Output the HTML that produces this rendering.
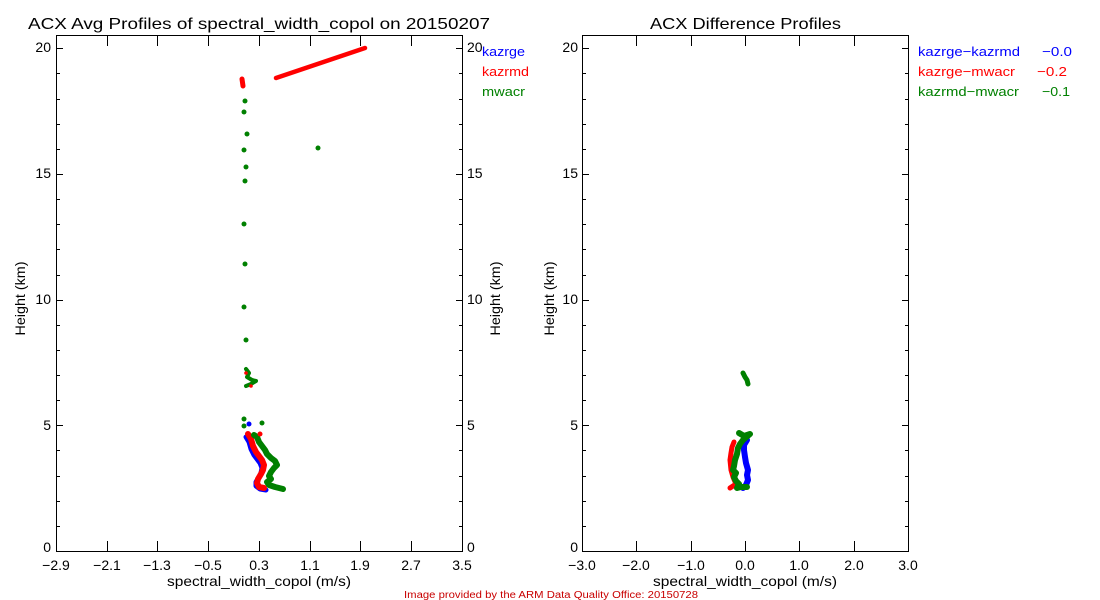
<!DOCTYPE html>
<html><head><meta charset="utf-8"><style>
html,body{margin:0;padding:0;background:#fff;}
svg{display:block;}
text{font-family:"Liberation Sans",sans-serif;}
</style></head><body>
<svg width="1100" height="600" viewBox="0 0 1100 600" xmlns="http://www.w3.org/2000/svg">
<rect width="1100" height="600" fill="#fff"/>

<!-- Titles -->
<text x="28" y="29" font-size="16" textLength="462" lengthAdjust="spacingAndGlyphs" fill="#000">ACX Avg Profiles of spectral_width_copol on 20150207</text>
<text x="650" y="29" font-size="16" textLength="191" lengthAdjust="spacingAndGlyphs" fill="#000">ACX Difference Profiles</text>

<!-- ===== Left plot axes ===== -->
<g stroke="#000" stroke-width="1" fill="none" shape-rendering="crispEdges">
<rect x="56.5" y="35.5" width="406" height="516"/>
<path d="M107.5 551v-10M157.5 551v-10M208.5 551v-10M259.5 551v-10M310.5 551v-10M360.5 551v-10M411.5 551v-10
M107.5 36v10M157.5 36v10M208.5 36v10M259.5 36v10M310.5 36v10M360.5 36v10M411.5 36v10"/>
<path d="M56 425.5h7M56 300.5h7M56 174.5h7M56 48.5h7
M56 526.5h4M56 501.5h4M56 476.5h4M56 450.5h4M56 400.5h4M56 375.5h4M56 350.5h4M56 325.5h4M56 275.5h4M56 249.5h4M56 224.5h4M56 199.5h4M56 149.5h4M56 124.5h4M56 99.5h4M56 73.5h4
M463 425.5h-7M463 300.5h-7M463 174.5h-7M463 48.5h-7
M463 526.5h-4M463 501.5h-4M463 476.5h-4M463 450.5h-4M463 400.5h-4M463 375.5h-4M463 350.5h-4M463 325.5h-4M463 275.5h-4M463 249.5h-4M463 224.5h-4M463 199.5h-4M463 149.5h-4M463 124.5h-4M463 99.5h-4M463 73.5h-4"/>
</g>
<g font-size="14" fill="#000" text-anchor="middle">
<text x="56" y="570">−2.9</text>
<text x="107" y="570">−2.1</text>
<text x="157" y="570">−1.3</text>
<text x="208" y="570">−0.5</text>
<text x="259" y="570">0.3</text>
<text x="310" y="570">1.1</text>
<text x="360" y="570">1.9</text>
<text x="411" y="570">2.7</text>
<text x="462" y="570">3.5</text>
</g>
<g font-size="14" fill="#000" text-anchor="end">
<text x="51" y="552">0</text>
<text x="51" y="430">5</text>
<text x="51" y="304">10</text>
<text x="51" y="178">15</text>
<text x="51" y="52">20</text>
</g>
<g font-size="14" fill="#000" text-anchor="start">
<text x="467" y="552">0</text>
<text x="467" y="430">5</text>
<text x="467" y="304">10</text>
<text x="467" y="178">15</text>
<text x="467" y="52">20</text>
</g>
<text x="259" y="586" font-size="14" text-anchor="middle" textLength="184" lengthAdjust="spacingAndGlyphs" fill="#000">spectral_width_copol (m/s)</text>
<text transform="translate(25,298.5) rotate(-90)" font-size="14" text-anchor="middle" textLength="74" lengthAdjust="spacingAndGlyphs" fill="#000">Height (km)</text>
<text transform="translate(500,298.5) rotate(-90)" font-size="14" text-anchor="middle" textLength="74" lengthAdjust="spacingAndGlyphs" fill="#000">Height (km)</text>

<!-- Left legend -->
<text x="482" y="56" font-size="13" fill="#0000ff" textLength="43" lengthAdjust="spacingAndGlyphs">kazrge</text>
<text x="482" y="76" font-size="13" fill="#ff0000" textLength="47" lengthAdjust="spacingAndGlyphs">kazrmd</text>
<text x="482" y="96" font-size="13" fill="#008000" textLength="43" lengthAdjust="spacingAndGlyphs">mwacr</text>

<!-- Left plot data -->
<g fill="none" stroke-linecap="round" stroke-linejoin="round">
<!-- blue -->
<polyline stroke="#0000ff" stroke-width="5" points="246,437 249,442 251,449 254,455 257,459 260,463 262,468 261,473 259,477 256,482 256,486 260,489 266,490"/>
<!-- red -->
<polyline stroke="#ff0000" stroke-width="6" points="248,434 251,439 253,446 256,452 259,456 262,460 264,465 263,470 261,474 258,479 257,483 259,487 264,488"/>
<line stroke="#ff0000" stroke-width="5" x1="242" y1="79" x2="243" y2="86"/>
<line stroke="#ff0000" stroke-width="4.5" x1="276" y1="78" x2="365" y2="48"/>
<!-- green -->
<polyline stroke="#008000" stroke-width="6" points="254,435 257,437 259,442 262,446 265,450 267,454 271,458 275,461 277,465 274,468 271,472 269,476 271,479 267,482 269,485 275,487 283,489"/>
<polyline stroke="#008000" stroke-width="4" points="246,369 249,373 247,377 252,380 256,381 251,384 246,386"/>
</g>
<g fill="#ff0000"><circle cx="260" cy="434" r="2.5"/><circle cx="246" cy="373" r="1.8"/><circle cx="251" cy="386" r="1.8"/></g>
<circle cx="249" cy="424" r="2.5" fill="#0000ff"/>
<g fill="#008000">
<circle cx="245" cy="101" r="2.5"/><circle cx="244" cy="112" r="2.5"/><circle cx="247" cy="134" r="2.5"/>
<circle cx="244" cy="150" r="2.5"/><circle cx="246" cy="167" r="2.5"/><circle cx="245" cy="181" r="2.5"/>
<circle cx="318" cy="148" r="2.5"/><circle cx="244" cy="224" r="2.5"/><circle cx="245" cy="264" r="2.5"/>
<circle cx="244" cy="307" r="2.5"/><circle cx="246" cy="340" r="2.5"/>
<circle cx="244" cy="419" r="2.5"/><circle cx="244" cy="426" r="2.5"/><circle cx="262" cy="423" r="2.5"/>
</g>

<!-- ===== Right plot axes ===== -->
<g stroke="#000" stroke-width="1" fill="none" shape-rendering="crispEdges">
<rect x="582.5" y="35.5" width="326" height="516"/>
<path d="M636.5 551v-10M691.5 551v-10M745.5 551v-10M799.5 551v-10M854.5 551v-10
M636.5 36v10M691.5 36v10M745.5 36v10M799.5 36v10M854.5 36v10"/>
<path d="M582 425.5h7M582 300.5h7M582 174.5h7M582 48.5h7
M582 526.5h4M582 501.5h4M582 476.5h4M582 450.5h4M582 400.5h4M582 375.5h4M582 350.5h4M582 325.5h4M582 275.5h4M582 249.5h4M582 224.5h4M582 199.5h4M582 149.5h4M582 124.5h4M582 99.5h4M582 73.5h4
M909 425.5h-7M909 300.5h-7M909 174.5h-7M909 48.5h-7
M909 526.5h-4M909 501.5h-4M909 476.5h-4M909 450.5h-4M909 400.5h-4M909 375.5h-4M909 350.5h-4M909 325.5h-4M909 275.5h-4M909 249.5h-4M909 224.5h-4M909 199.5h-4M909 149.5h-4M909 124.5h-4M909 99.5h-4M909 73.5h-4"/>
</g>
<g font-size="14" fill="#000" text-anchor="middle">
<text x="582" y="570">−3.0</text>
<text x="636" y="570">−2.0</text>
<text x="691" y="570">−1.0</text>
<text x="745" y="570">0.0</text>
<text x="799" y="570">1.0</text>
<text x="854" y="570">2.0</text>
<text x="908" y="570">3.0</text>
</g>
<g font-size="14" fill="#000" text-anchor="end">
<text x="578" y="552">0</text>
<text x="578" y="430">5</text>
<text x="578" y="304">10</text>
<text x="578" y="178">15</text>
<text x="578" y="52">20</text>
</g>
<text x="745" y="586" font-size="14" text-anchor="middle" textLength="184" lengthAdjust="spacingAndGlyphs" fill="#000">spectral_width_copol (m/s)</text>
<text transform="translate(554,298.5) rotate(-90)" font-size="14" text-anchor="middle" textLength="74" lengthAdjust="spacingAndGlyphs" fill="#000">Height (km)</text>

<!-- Right legend -->
<text x="918" y="56" font-size="13" fill="#0000ff" textLength="102" lengthAdjust="spacingAndGlyphs">kazrge−kazrmd</text>
<text x="1042" y="56" font-size="13" fill="#0000ff" textLength="30" lengthAdjust="spacingAndGlyphs">−0.0</text>
<text x="918" y="76" font-size="13" fill="#ff0000" textLength="97" lengthAdjust="spacingAndGlyphs">kazrge−mwacr</text>
<text x="1037" y="76" font-size="13" fill="#ff0000" textLength="30" lengthAdjust="spacingAndGlyphs">−0.2</text>
<text x="918" y="96" font-size="13" fill="#008000" textLength="101" lengthAdjust="spacingAndGlyphs">kazrmd−mwacr</text>
<text x="1042" y="96" font-size="13" fill="#008000" textLength="28" lengthAdjust="spacingAndGlyphs">−0.1</text>

<!-- Right plot data -->
<g fill="none" stroke-linecap="round" stroke-linejoin="round">
<polyline stroke="#0000ff" stroke-width="6" points="747,440 744,445 744,450 745,457 746,463 748,470 747,475 748,480 746,485 743,488"/>
<polyline stroke="#ff0000" stroke-width="5" points="734,442 732,447 731,453 730,460 731,470 733,477 736,484 730,488"/>
<polyline stroke="#008000" stroke-width="6" points="739,433 744,436 750,434 743,440 740,444 738,448 737,454 735,460 734,466 733,470 736,473 734,477 736,481 739,484 737,488 741,487 747,487"/>
<polyline stroke="#008000" stroke-width="5" points="743,373 745,377 747,380 748,384"/>
</g>

<!-- Footer -->
<text x="404" y="598" font-size="10" fill="#c80000" textLength="294" lengthAdjust="spacingAndGlyphs">Image provided by the ARM Data Quality Office: 20150728</text>
</svg>
</body></html>
